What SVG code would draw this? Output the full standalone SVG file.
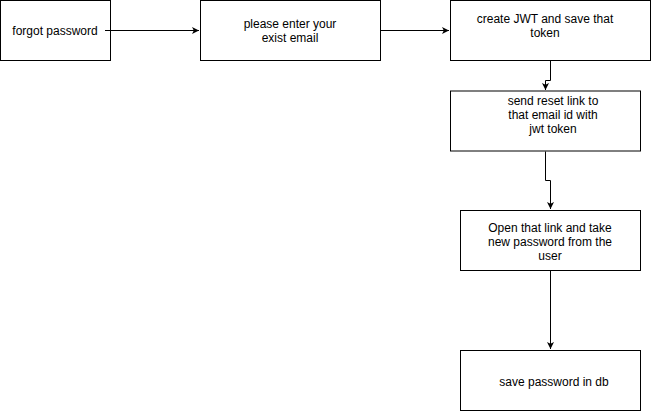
<svg xmlns="http://www.w3.org/2000/svg" width="651" height="411" viewBox="0 0 651 411">
<defs>
<style>
.box{fill:#fff;stroke:#000;stroke-width:1}
.lbl{font-family:"Liberation Sans",Arial,sans-serif;font-size:12px;fill:#000;text-anchor:middle}
.edge{fill:none;stroke:#000;stroke-width:1}
</style>
<marker id="arr" markerWidth="8" markerHeight="8" refX="7" refY="4" orient="auto" markerUnits="userSpaceOnUse">
<path d="M0,0.5 L7,4 L0,7.5 L1.8,4 Z" fill="#000"/>
</marker>
</defs>
<rect width="651" height="411" fill="#fff"/>
<g id="n1"><rect class="box" x="0.5" y="0.5" width="110" height="60"/><text class="lbl" x="55" y="34.5">forgot password</text></g>
<g id="n2"><rect class="box" x="200.5" y="0.5" width="180" height="60"/><text class="lbl" x="290" y="27.5">please enter your</text><text class="lbl" x="290" y="41.5">exist email</text></g>
<g id="n3"><rect class="box" x="450.5" y="0.5" width="200" height="60"/><text class="lbl" x="545" y="22.5">create JWT and save that</text><text class="lbl" x="545" y="36.5">token</text></g>
<g id="n4"><rect class="box" x="450.5" y="91" width="190" height="60"/><text class="lbl" x="553" y="104.5">send reset link to</text><text class="lbl" x="553" y="118.5">that email id with</text><text class="lbl" x="553" y="132.5">jwt token</text></g>
<g id="n5"><rect class="box" x="460.5" y="210.5" width="180" height="60"/><text class="lbl" x="550" y="231.5">Open that link and take</text><text class="lbl" x="550" y="245.5">new password from the</text><text class="lbl" x="550" y="259.5">user</text></g>
<g id="n6"><rect class="box" x="460.5" y="350.5" width="180" height="60"/><text class="lbl" x="554" y="385.5">save password in db</text></g>
<g id="connectors">
<path class="edge" d="M105,30.5 H199" marker-end="url(#arr)"/>
<path class="edge" d="M380.5,30.5 H449" marker-end="url(#arr)"/>
<path class="edge" d="M550.5,61 V80.5 H545.5 V90" marker-end="url(#arr)"/>
<path class="edge" d="M545.5,151.5 V180.5 H550.5 V209" marker-end="url(#arr)"/>
<path class="edge" d="M550.5,271 V349" marker-end="url(#arr)"/>
</g>
</svg>
